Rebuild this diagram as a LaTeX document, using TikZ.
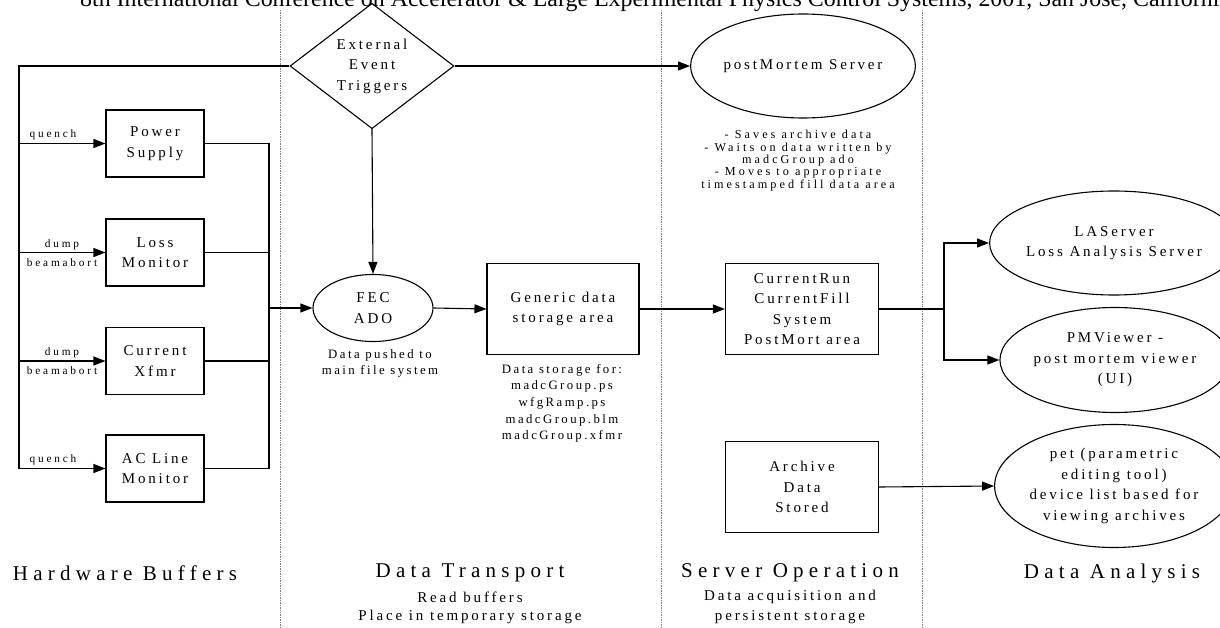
\documentclass[tikz,border=0pt]{standalone}
\usepackage{fontspec}
\setmainfont{Liberation Serif}
\newfontfamily\lsf[LetterSpace=19]{Liberation Serif}
\newfontfamily\lsfw[LetterSpace=25]{Liberation Serif}
\usetikzlibrary{arrows.meta,shapes.geometric}
\newcommand\nodefont{\lsf\fontsize{15}{20.5}\selectfont}
\newcommand\notefont{\lsfw\fontsize{12.2}{12.4}\selectfont}
\newcommand\tagfont{\lsfw\fontsize{11.3}{12.4}\selectfont}
\newcommand\datafont{\lsf\fontsize{12.8}{16.6}\selectfont}
\newcommand\titlefont{\lsfw\fontsize{21}{24}\selectfont}
\begin{document}
\begin{tikzpicture}[x=1pt,y=-1pt,
  ln/.style={line width=1.1pt},
  arr/.style={line width=1.1pt,-{Triangle[length=12pt,width=9pt]}},
  box/.style={draw,line width=1.1pt,inner sep=0pt,align=center,font=\nodefont},
  hwbox/.style={box,minimum width=98pt,minimum height=67pt},
  bigbox/.style={box,minimum width=153pt,minimum height=91pt},
  oval/.style={draw,ellipse,line width=1.1pt,inner sep=0pt,align=center,font=\nodefont},
  lbl/.style={inner sep=0pt,align=center,font=\tagfont},
  note/.style={inner sep=0pt,align=center,font=\notefont},
  sep/.style={draw=gray,line width=0.7pt,densely dotted},
  title/.style={inner sep=0pt,align=center,font=\titlefont},
  sub/.style={inner sep=0pt,align=center,font=\nodefont}]
\useasboundingbox (0,0) rectangle (1220,628);
\clip (0,0) rectangle (1220,628);
% header
\node[anchor=base west,inner sep=0pt,font=\fontsize{23.9}{26}\selectfont] (hdr) at (80,7)
  {8th International Conference on Accelerator \& Large Experimental Physics Control Systems, 2001, San Jose, California};
% separators
\coordinate (s1t) at (280,10); \coordinate (s1b) at (280,628);
\coordinate (s2t) at (661,10); \coordinate (s2b) at (661,628);
\coordinate (s3t) at (922,10); \coordinate (s3b) at (922,628);
\draw[sep] (s1t) -- (s1b);
\draw[sep] (s2t) -- (s2b);
\draw[sep] (s3t) -- (s3b);
% nodes
\node[draw,diamond,line width=1.1pt,inner sep=0pt,minimum width=164pt,minimum height=123pt,align=center,font=\nodefont] (dia) at (372,66) {External\\Event\\Triggers};
\node[oval,minimum width=218pt,minimum height=104pt] (pms) at (803,66) {postMortem Server};
\node[note,anchor=north] (pmnote) at (798,130) {- Saves archive data\\- Waits on data written by\\madcGroup ado\\- Moves to appropriate\\timestamped fill data area};
\node[hwbox] (ps) at (155,143.5) {Power\\Supply};
\node[hwbox] (lm) at (155,252.5) {Loss\\Monitor};
\node[hwbox] (cx) at (155,361) {Current\\Xfmr};
\node[hwbox] (ac) at (155,468.5) {AC Line\\Monitor};
\node[oval,minimum width=120pt,minimum height=67pt] (fec) at (373,308) {FEC\\ADO};
\node[inner sep=0pt,align=center,font=\datafont,anchor=north] (fecnote) at (380,349) {Data pushed to\\main file system};
\node[bigbox,minimum width=152pt] (gen) at (563,309) {Generic data\\storage area};
\node[inner sep=0pt,align=center,font=\datafont,anchor=north] (gennote) at (562,364) {Data storage for:\\madcGroup.ps\\wfgRamp.ps\\madcGroup.blm\\madcGroup.xfmr};
\node[bigbox] (cr) at (802,309) {CurrentRun\\CurrentFill\\System\\PostMort area};
\node[bigbox] (arc) at (802,487) {Archive\\Data\\Stored};
\node[oval,minimum width=210pt,minimum height=104pt] (las) at (1114,243) {LAServer\\Loss Analysis Server};
\node[oval,minimum width=210pt,minimum height=105pt] (pmv) at (1115,360) {PMViewer -\\post mortem viewer\\(UI)};
\node[oval,minimum width=208pt,minimum height=123pt] (pet) at (1114,486) {pet (parametric\\editing tool)\\device list based for\\viewing archives};
% labels on hardware inputs
\node[lbl] (q1) at (53,135) {quench};
\node[lbl] (d1) at (62,245) {dump};
\node[lbl] (b1) at (62,263) {beamabort};
\node[lbl] (d2) at (62,353) {dump};
\node[lbl] (b2) at (62,371) {beamabort};
\node[lbl] (q2) at (53,460) {quench};
% titles
\node[title] (t1) at (125,573) {Hardware Buffers};
\node[title] (t2) at (470,573) {Data Transport};
\node[title] (t3) at (790,573) {Server Operation};
\node[title] (t4) at (1112,573) {Data Analysis};
\node[sub] (t2a) at (470,597) {Read buffers};
\node[sub] (t2b) at (470,617) {Place in temporary storage};
\node[sub] (t3a) at (790,597) {Data acquisition and};
\node[sub] (t3b) at (790,617) {persistent storage};
% connectors
\coordinate (lt) at (19,66);
\draw[arr] (dia.west) -| (lt |- ac.west) -- (ac.west);
\draw[arr] (ps.west -| lt) -- (ps.west);
\draw[arr] (lm.west -| lt) -- (lm.west);
\draw[arr] (cx.west -| lt) -- (cx.west);
\coordinate (rb) at (269,308);
\draw[ln] (ps.east) -| (rb);
\draw[ln] (lm.east) -| (rb);
\draw[ln] (cx.east) -| (rb);
\draw[ln] (ac.east) -| (rb);
\draw[arr] (rb) -- (fec.west);
\draw[arr] (dia.south) -- (fec.north);
\draw[arr] (dia.east) -- (pms.west);
\draw[arr] (fec.east) -- (gen.west);
\draw[arr] (gen.east) -- (cr.west);
\coordinate (fk) at (944,309);
\draw[ln] (cr.east) -- (fk);
\draw[arr] (fk) |- (las.west);
\draw[arr] (fk) |- (pmv.west);
\draw[arr] (arc.east) -- (pet.west);
\end{tikzpicture}
\end{document}
